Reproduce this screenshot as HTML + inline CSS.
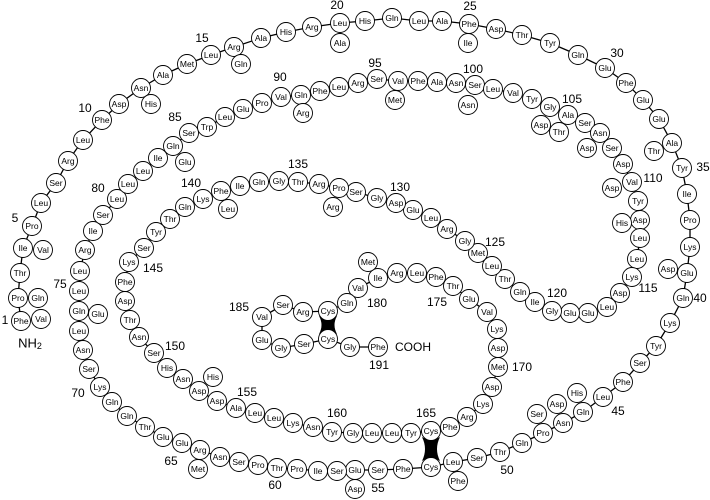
<!DOCTYPE html>
<html><head><meta charset="utf-8"><style>
html,body{margin:0;padding:0;background:#fff;}
svg{display:block;font-family:"Liberation Sans",sans-serif;}
.c circle{fill:#fff;stroke:#000;stroke-width:0.9;}
.c text{font-size:8.5px;text-anchor:middle;dominant-baseline:central;}
.l{font-size:12px;}
</style></head><body>
<svg width="710" height="500" viewBox="0 0 710 500" xmlns="http://www.w3.org/2000/svg">
<polyline fill="none" stroke="#000" stroke-width="1.3" points="21,321 18,298 20,273 23,248 32,226 41,203 56,183 68,161 83,140 102,120 119,104 141,88 163,75 187,64 211,55 234,47 261,38 286,32 312,27 340,23 365,21 392,18 419,21 442,21 469,24 496,29 522,35 550,43 578,55 605,68 626,83 643,100 659,119 672,143 682,168 687,194 690,220 690,247 687,273 683,298 670,323 656,346 640,363 623,382 603,397 583,412 563,423 543,433 522,443 500,452 477,458 453,462 431,467 403,469 378,470 355,470 337,471 320,471 297,469 277,468 258,465 239,462 220,457 200,450 182,443 163,437 145,427 127,416 112,402 100,387 89,369 83,350 79,331 79,311 79,291 80,271 85,250 93,231 103,215 117,199 128,184 143,171 158,158 173,146 189,133 207,127 225,117 243,109 262,103 281,97 301,95 320,91 339,87 358,83 377,79 398,81 418,81 437,82 456,83 475,85 493,89 513,93 532,99 550,107 568,115 585,123 600,133 612,148 623,164 632,182 638,201 640,220 640,238 637,259 632,277 620,293 607,307 588,313 570,313 552,311 535,302 520,292 505,279 492,266 478,253 465,241 447,229 431,218 413,210 396,203 377,198 356,192 339,188 319,184 298,182 279,181 259,182 240,186 221,191 203,199 185,207 170,219 156,232 144,248 129,262 125,282 125,301 130,320 139,337 154,353 167,368 183,379 199,391 217,401 236,408 255,413 274,418 293,423 313,427 332,432 353,433 370,433 392,433 411,433 431,431 450,427 467,417 483,404 492,387 498,367 498,348 497,329 487,312 469,299 453,286 436,277 417,273 397,273 378,278 358,288 347,303 328,311 303,312 283,305 262,317 262,340 281,348 304,344 328,339 350,347 378,347"/>
<path d="M319,316 Q328,321 337,316 Q332,325 337,334 Q328,329 319,334 Q324,325 319,316 Z" fill="#000"/>
<path d="M422,437 Q431,442 440,437 Q434,449 440,461 Q431,456 422,461 Q428,449 422,437 Z" fill="#000"/>
<g class="c">
<circle cx="21" cy="321" r="9.5"/><text x="21" y="321">Phe</text>
<circle cx="18" cy="298" r="9.5"/><text x="18" y="298">Pro</text>
<circle cx="20" cy="273" r="9.5"/><text x="20" y="273">Thr</text>
<circle cx="23" cy="248" r="9.5"/><text x="23" y="248">Ile</text>
<circle cx="32" cy="226" r="9.5"/><text x="32" y="226">Pro</text>
<circle cx="41" cy="203" r="9.5"/><text x="41" y="203">Leu</text>
<circle cx="56" cy="183" r="9.5"/><text x="56" y="183">Ser</text>
<circle cx="68" cy="161" r="9.5"/><text x="68" y="161">Arg</text>
<circle cx="83" cy="140" r="9.5"/><text x="83" y="140">Leu</text>
<circle cx="102" cy="120" r="9.5"/><text x="102" y="120">Phe</text>
<circle cx="119" cy="104" r="9.5"/><text x="119" y="104">Asp</text>
<circle cx="141" cy="88" r="9.5"/><text x="141" y="88">Asn</text>
<circle cx="163" cy="75" r="9.5"/><text x="163" y="75">Ala</text>
<circle cx="187" cy="64" r="9.5"/><text x="187" y="64">Met</text>
<circle cx="211" cy="55" r="9.5"/><text x="211" y="55">Leu</text>
<circle cx="234" cy="47" r="9.5"/><text x="234" y="47">Arg</text>
<circle cx="261" cy="38" r="9.5"/><text x="261" y="38">Ala</text>
<circle cx="286" cy="32" r="9.5"/><text x="286" y="32">His</text>
<circle cx="312" cy="27" r="9.5"/><text x="312" y="27">Arg</text>
<circle cx="340" cy="23" r="9.5"/><text x="340" y="23">Leu</text>
<circle cx="365" cy="21" r="9.5"/><text x="365" y="21">His</text>
<circle cx="392" cy="18" r="9.5"/><text x="392" y="18">Gln</text>
<circle cx="419" cy="21" r="9.5"/><text x="419" y="21">Leu</text>
<circle cx="442" cy="21" r="9.5"/><text x="442" y="21">Ala</text>
<circle cx="469" cy="24" r="9.5"/><text x="469" y="24">Phe</text>
<circle cx="496" cy="29" r="9.5"/><text x="496" y="29">Asp</text>
<circle cx="522" cy="35" r="9.5"/><text x="522" y="35">Thr</text>
<circle cx="550" cy="43" r="9.5"/><text x="550" y="43">Tyr</text>
<circle cx="578" cy="55" r="9.5"/><text x="578" y="55">Gln</text>
<circle cx="605" cy="68" r="9.5"/><text x="605" y="68">Glu</text>
<circle cx="626" cy="83" r="9.5"/><text x="626" y="83">Phe</text>
<circle cx="643" cy="100" r="9.5"/><text x="643" y="100">Glu</text>
<circle cx="659" cy="119" r="9.5"/><text x="659" y="119">Glu</text>
<circle cx="672" cy="143" r="9.5"/><text x="672" y="143">Ala</text>
<circle cx="682" cy="168" r="9.5"/><text x="682" y="168">Tyr</text>
<circle cx="687" cy="194" r="9.5"/><text x="687" y="194">Ile</text>
<circle cx="690" cy="220" r="9.5"/><text x="690" y="220">Pro</text>
<circle cx="690" cy="247" r="9.5"/><text x="690" y="247">Lys</text>
<circle cx="687" cy="273" r="9.5"/><text x="687" y="273">Glu</text>
<circle cx="683" cy="298" r="9.5"/><text x="683" y="298">Gln</text>
<circle cx="670" cy="323" r="9.5"/><text x="670" y="323">Lys</text>
<circle cx="656" cy="346" r="9.5"/><text x="656" y="346">Tyr</text>
<circle cx="640" cy="363" r="9.5"/><text x="640" y="363">Ser</text>
<circle cx="623" cy="382" r="9.5"/><text x="623" y="382">Phe</text>
<circle cx="603" cy="397" r="9.5"/><text x="603" y="397">Leu</text>
<circle cx="583" cy="412" r="9.5"/><text x="583" y="412">Gln</text>
<circle cx="563" cy="423" r="9.5"/><text x="563" y="423">Asn</text>
<circle cx="543" cy="433" r="9.5"/><text x="543" y="433">Pro</text>
<circle cx="522" cy="443" r="9.5"/><text x="522" y="443">Gln</text>
<circle cx="500" cy="452" r="9.5"/><text x="500" y="452">Thr</text>
<circle cx="477" cy="458" r="9.5"/><text x="477" y="458">Ser</text>
<circle cx="453" cy="462" r="9.5"/><text x="453" y="462">Leu</text>
<circle cx="431" cy="467" r="9.5"/><text x="431" y="467">Cys</text>
<circle cx="403" cy="469" r="9.5"/><text x="403" y="469">Phe</text>
<circle cx="378" cy="470" r="9.5"/><text x="378" y="470">Ser</text>
<circle cx="355" cy="470" r="9.5"/><text x="355" y="470">Glu</text>
<circle cx="337" cy="471" r="9.5"/><text x="337" y="471">Ser</text>
<circle cx="318" cy="471" r="9.5"/><text x="318" y="471">Ile</text>
<circle cx="297" cy="469" r="9.5"/><text x="297" y="469">Pro</text>
<circle cx="277" cy="468" r="9.5"/><text x="277" y="468">Thr</text>
<circle cx="258" cy="465" r="9.5"/><text x="258" y="465">Pro</text>
<circle cx="239" cy="462" r="9.5"/><text x="239" y="462">Ser</text>
<circle cx="220" cy="457" r="9.5"/><text x="220" y="457">Asn</text>
<circle cx="200" cy="450" r="9.5"/><text x="200" y="450">Arg</text>
<circle cx="182" cy="443" r="9.5"/><text x="182" y="443">Glu</text>
<circle cx="163" cy="437" r="9.5"/><text x="163" y="437">Glu</text>
<circle cx="145" cy="427" r="9.5"/><text x="145" y="427">Thr</text>
<circle cx="127" cy="416" r="9.5"/><text x="127" y="416">Gln</text>
<circle cx="112" cy="402" r="9.5"/><text x="112" y="402">Gln</text>
<circle cx="100" cy="387" r="9.5"/><text x="100" y="387">Lys</text>
<circle cx="89" cy="369" r="9.5"/><text x="89" y="369">Ser</text>
<circle cx="83" cy="350" r="9.5"/><text x="83" y="350">Asn</text>
<circle cx="79" cy="331" r="9.5"/><text x="79" y="331">Leu</text>
<circle cx="79" cy="311" r="9.5"/><text x="79" y="311">Gln</text>
<circle cx="79" cy="291" r="9.5"/><text x="79" y="291">Leu</text>
<circle cx="80" cy="271" r="9.5"/><text x="80" y="271">Leu</text>
<circle cx="85" cy="250" r="9.5"/><text x="85" y="250">Arg</text>
<circle cx="93" cy="231" r="9.5"/><text x="93" y="231">Ile</text>
<circle cx="103" cy="215" r="9.5"/><text x="103" y="215">Ser</text>
<circle cx="117" cy="199" r="9.5"/><text x="117" y="199">Leu</text>
<circle cx="128" cy="184" r="9.5"/><text x="128" y="184">Leu</text>
<circle cx="143" cy="171" r="9.5"/><text x="143" y="171">Leu</text>
<circle cx="158" cy="158" r="9.5"/><text x="158" y="158">Ile</text>
<circle cx="173" cy="146" r="9.5"/><text x="173" y="146">Gln</text>
<circle cx="189" cy="133" r="9.5"/><text x="189" y="133">Ser</text>
<circle cx="207" cy="127" r="9.5"/><text x="207" y="127">Trp</text>
<circle cx="225" cy="117" r="9.5"/><text x="225" y="117">Leu</text>
<circle cx="243" cy="109" r="9.5"/><text x="243" y="109">Glu</text>
<circle cx="262" cy="103" r="9.5"/><text x="262" y="103">Pro</text>
<circle cx="281" cy="97" r="9.5"/><text x="281" y="97">Val</text>
<circle cx="301" cy="95" r="9.5"/><text x="301" y="95">Gln</text>
<circle cx="320" cy="91" r="9.5"/><text x="320" y="91">Phe</text>
<circle cx="339" cy="87" r="9.5"/><text x="339" y="87">Leu</text>
<circle cx="358" cy="83" r="9.5"/><text x="358" y="83">Arg</text>
<circle cx="377" cy="79" r="9.5"/><text x="377" y="79">Ser</text>
<circle cx="398" cy="81" r="9.5"/><text x="398" y="81">Val</text>
<circle cx="418" cy="81" r="9.5"/><text x="418" y="81">Phe</text>
<circle cx="437" cy="82" r="9.5"/><text x="437" y="82">Ala</text>
<circle cx="456" cy="83" r="9.5"/><text x="456" y="83">Asn</text>
<circle cx="475" cy="85" r="9.5"/><text x="475" y="85">Ser</text>
<circle cx="493" cy="89" r="9.5"/><text x="493" y="89">Leu</text>
<circle cx="513" cy="93" r="9.5"/><text x="513" y="93">Val</text>
<circle cx="532" cy="99" r="9.5"/><text x="532" y="99">Tyr</text>
<circle cx="550" cy="107" r="9.5"/><text x="550" y="107">Gly</text>
<circle cx="568" cy="115" r="9.5"/><text x="568" y="115">Ala</text>
<circle cx="585" cy="123" r="9.5"/><text x="585" y="123">Ser</text>
<circle cx="600" cy="133" r="9.5"/><text x="600" y="133">Asn</text>
<circle cx="612" cy="148" r="9.5"/><text x="612" y="148">Ser</text>
<circle cx="623" cy="164" r="9.5"/><text x="623" y="164">Asp</text>
<circle cx="632" cy="182" r="9.5"/><text x="632" y="182">Val</text>
<circle cx="638" cy="201" r="9.5"/><text x="638" y="201">Tyr</text>
<circle cx="640" cy="220" r="9.5"/><text x="640" y="220">Asp</text>
<circle cx="640" cy="238" r="9.5"/><text x="640" y="238">Leu</text>
<circle cx="637" cy="259" r="9.5"/><text x="637" y="259">Leu</text>
<circle cx="632" cy="277" r="9.5"/><text x="632" y="277">Lys</text>
<circle cx="620" cy="293" r="9.5"/><text x="620" y="293">Asp</text>
<circle cx="607" cy="307" r="9.5"/><text x="607" y="307">Leu</text>
<circle cx="588" cy="313" r="9.5"/><text x="588" y="313">Glu</text>
<circle cx="570" cy="313" r="9.5"/><text x="570" y="313">Glu</text>
<circle cx="552" cy="311" r="9.5"/><text x="552" y="311">Gly</text>
<circle cx="535" cy="302" r="9.5"/><text x="535" y="302">Ile</text>
<circle cx="520" cy="292" r="9.5"/><text x="520" y="292">Gln</text>
<circle cx="505" cy="279" r="9.5"/><text x="505" y="279">Thr</text>
<circle cx="492" cy="266" r="9.5"/><text x="492" y="266">Leu</text>
<circle cx="478" cy="253" r="9.5"/><text x="478" y="253">Met</text>
<circle cx="465" cy="241" r="9.5"/><text x="465" y="241">Gly</text>
<circle cx="447" cy="229" r="9.5"/><text x="447" y="229">Arg</text>
<circle cx="431" cy="218" r="9.5"/><text x="431" y="218">Leu</text>
<circle cx="413" cy="210" r="9.5"/><text x="413" y="210">Glu</text>
<circle cx="396" cy="203" r="9.5"/><text x="396" y="203">Asp</text>
<circle cx="377" cy="198" r="9.5"/><text x="377" y="198">Gly</text>
<circle cx="356" cy="192" r="9.5"/><text x="356" y="192">Ser</text>
<circle cx="339" cy="188" r="9.5"/><text x="339" y="188">Pro</text>
<circle cx="319" cy="184" r="9.5"/><text x="319" y="184">Arg</text>
<circle cx="298" cy="182" r="9.5"/><text x="298" y="182">Thr</text>
<circle cx="279" cy="181" r="9.5"/><text x="279" y="181">Gly</text>
<circle cx="259" cy="182" r="9.5"/><text x="259" y="182">Gln</text>
<circle cx="240" cy="186" r="9.5"/><text x="240" y="186">Ile</text>
<circle cx="221" cy="191" r="9.5"/><text x="221" y="191">Phe</text>
<circle cx="203" cy="199" r="9.5"/><text x="203" y="199">Lys</text>
<circle cx="185" cy="207" r="9.5"/><text x="185" y="207">Gln</text>
<circle cx="170" cy="219" r="9.5"/><text x="170" y="219">Thr</text>
<circle cx="156" cy="232" r="9.5"/><text x="156" y="232">Tyr</text>
<circle cx="144" cy="248" r="9.5"/><text x="144" y="248">Ser</text>
<circle cx="129" cy="262" r="9.5"/><text x="129" y="262">Lys</text>
<circle cx="125" cy="282" r="9.5"/><text x="125" y="282">Phe</text>
<circle cx="125" cy="301" r="9.5"/><text x="125" y="301">Asp</text>
<circle cx="130" cy="320" r="9.5"/><text x="130" y="320">Thr</text>
<circle cx="139" cy="337" r="9.5"/><text x="139" y="337">Asn</text>
<circle cx="154" cy="353" r="9.5"/><text x="154" y="353">Ser</text>
<circle cx="167" cy="368" r="9.5"/><text x="167" y="368">His</text>
<circle cx="183" cy="379" r="9.5"/><text x="183" y="379">Asn</text>
<circle cx="199" cy="391" r="9.5"/><text x="199" y="391">Asp</text>
<circle cx="217" cy="401" r="9.5"/><text x="217" y="401">Asp</text>
<circle cx="236" cy="408" r="9.5"/><text x="236" y="408">Ala</text>
<circle cx="255" cy="413" r="9.5"/><text x="255" y="413">Leu</text>
<circle cx="274" cy="418" r="9.5"/><text x="274" y="418">Leu</text>
<circle cx="293" cy="423" r="9.5"/><text x="293" y="423">Lys</text>
<circle cx="313" cy="427" r="9.5"/><text x="313" y="427">Asn</text>
<circle cx="332" cy="432" r="9.5"/><text x="332" y="432">Tyr</text>
<circle cx="353" cy="433" r="9.5"/><text x="353" y="433">Gly</text>
<circle cx="372" cy="433" r="9.5"/><text x="372" y="433">Leu</text>
<circle cx="392" cy="433" r="9.5"/><text x="392" y="433">Leu</text>
<circle cx="411" cy="433" r="9.5"/><text x="411" y="433">Tyr</text>
<circle cx="431" cy="431" r="9.5"/><text x="431" y="431">Cys</text>
<circle cx="450" cy="427" r="9.5"/><text x="450" y="427">Phe</text>
<circle cx="467" cy="417" r="9.5"/><text x="467" y="417">Arg</text>
<circle cx="483" cy="404" r="9.5"/><text x="483" y="404">Lys</text>
<circle cx="492" cy="387" r="9.5"/><text x="492" y="387">Asp</text>
<circle cx="498" cy="367" r="9.5"/><text x="498" y="367">Met</text>
<circle cx="498" cy="348" r="9.5"/><text x="498" y="348">Asp</text>
<circle cx="497" cy="329" r="9.5"/><text x="497" y="329">Lys</text>
<circle cx="487" cy="312" r="9.5"/><text x="487" y="312">Val</text>
<circle cx="469" cy="299" r="9.5"/><text x="469" y="299">Glu</text>
<circle cx="453" cy="286" r="9.5"/><text x="453" y="286">Thr</text>
<circle cx="436" cy="277" r="9.5"/><text x="436" y="277">Phe</text>
<circle cx="417" cy="273" r="9.5"/><text x="417" y="273">Leu</text>
<circle cx="397" cy="273" r="9.5"/><text x="397" y="273">Arg</text>
<circle cx="378" cy="278" r="9.5"/><text x="378" y="278">Ile</text>
<circle cx="358" cy="288" r="9.5"/><text x="358" y="288">Val</text>
<circle cx="347" cy="303" r="9.5"/><text x="347" y="303">Gln</text>
<circle cx="328" cy="311" r="9.5"/><text x="328" y="311">Cys</text>
<circle cx="303" cy="312" r="9.5"/><text x="303" y="312">Arg</text>
<circle cx="283" cy="305" r="9.5"/><text x="283" y="305">Ser</text>
<circle cx="262" cy="317" r="9.5"/><text x="262" y="317">Val</text>
<circle cx="262" cy="340" r="9.5"/><text x="262" y="340">Glu</text>
<circle cx="281" cy="348" r="9.5"/><text x="281" y="348">Gly</text>
<circle cx="304" cy="344" r="9.5"/><text x="304" y="344">Ser</text>
<circle cx="328" cy="339" r="9.5"/><text x="328" y="339">Cys</text>
<circle cx="350" cy="347" r="9.5"/><text x="350" y="347">Gly</text>
<circle cx="378" cy="347" r="9.5"/><text x="378" y="347">Phe</text>
<circle cx="41" cy="319" r="9.5"/><text x="41" y="319">Val</text>
<circle cx="38" cy="298" r="9.5"/><text x="38" y="298">Gln</text>
<circle cx="43" cy="250" r="9.5"/><text x="43" y="250">Val</text>
<circle cx="151" cy="104" r="9.5"/><text x="151" y="104">His</text>
<circle cx="241" cy="64" r="9.5"/><text x="241" y="64">Gln</text>
<circle cx="340" cy="43" r="9.5"/><text x="340" y="43">Ala</text>
<circle cx="468" cy="43" r="9.5"/><text x="468" y="43">Ile</text>
<circle cx="654" cy="151" r="9.5"/><text x="654" y="151">Thr</text>
<circle cx="668" cy="269" r="9.5"/><text x="668" y="269">Asp</text>
<circle cx="577" cy="393" r="9.5"/><text x="577" y="393">His</text>
<circle cx="557" cy="404" r="9.5"/><text x="557" y="404">Asp</text>
<circle cx="537" cy="414" r="9.5"/><text x="537" y="414">Ser</text>
<circle cx="458" cy="481" r="9.5"/><text x="458" y="481">Phe</text>
<circle cx="355" cy="489" r="9.5"/><text x="355" y="489">Asp</text>
<circle cx="198" cy="469" r="9.5"/><text x="198" y="469">Met</text>
<circle cx="98" cy="314" r="9.5"/><text x="98" y="314">Glu</text>
<circle cx="185" cy="162" r="9.5"/><text x="185" y="162">Glu</text>
<circle cx="303" cy="113" r="9.5"/><text x="303" y="113">Arg</text>
<circle cx="395" cy="100" r="9.5"/><text x="395" y="100">Met</text>
<circle cx="468" cy="105" r="9.5"/><text x="468" y="105">Asn</text>
<circle cx="541" cy="125" r="9.5"/><text x="541" y="125">Asp</text>
<circle cx="559" cy="132" r="9.5"/><text x="559" y="132">Thr</text>
<circle cx="587" cy="148" r="9.5"/><text x="587" y="148">Asp</text>
<circle cx="612" cy="188" r="9.5"/><text x="612" y="188">Asp</text>
<circle cx="622" cy="223" r="9.5"/><text x="622" y="223">His</text>
<circle cx="333" cy="207" r="9.5"/><text x="333" y="207">Arg</text>
<circle cx="228" cy="209" r="9.5"/><text x="228" y="209">Leu</text>
<circle cx="213" cy="377" r="9.5"/><text x="213" y="377">His</text>
<circle cx="368" cy="262" r="9.5"/><text x="368" y="262">Met</text>
</g>
<g class="l" text-anchor="middle" dominant-baseline="central">
<text x="5" y="320">1</text>
<text x="15" y="218">5</text>
<text x="85" y="108">10</text>
<text x="202" y="38">15</text>
<text x="337" y="5">20</text>
<text x="470" y="6">25</text>
<text x="617" y="53">30</text>
<text x="703" y="167">35</text>
<text x="700" y="298">40</text>
<text x="618" y="411">45</text>
<text x="507" y="470">50</text>
<text x="378" y="488">55</text>
<text x="275" y="485">60</text>
<text x="171" y="461">65</text>
<text x="78" y="393">70</text>
<text x="60" y="284">75</text>
<text x="98" y="188">80</text>
<text x="175" y="117">85</text>
<text x="280" y="77">90</text>
<text x="375" y="63">95</text>
<text x="473" y="69">100</text>
<text x="572" y="99">105</text>
<text x="653" y="178">110</text>
<text x="648" y="288">115</text>
<text x="557" y="293">120</text>
<text x="495" y="242">125</text>
<text x="400" y="187">130</text>
<text x="298" y="164">135</text>
<text x="191" y="183">140</text>
<text x="153" y="268">145</text>
<text x="175" y="346">150</text>
<text x="247" y="392">155</text>
<text x="337" y="413">160</text>
<text x="426" y="413">165</text>
<text x="522" y="367">170</text>
<text x="437" y="302">175</text>
<text x="377" y="303">180</text>
<text x="239" y="307">185</text>
<text x="379" y="365">191</text>
<text x="413" y="347">COOH</text>
<text x="30" y="343" font-size="13">NH<tspan font-size="9" dy="3">2</tspan></text>
</g>
</svg>
</body></html>
